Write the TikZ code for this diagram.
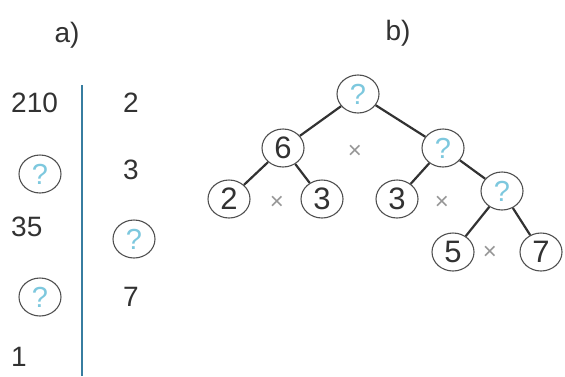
\documentclass[tikz,border=0pt]{standalone}
\usepackage{fontspec}
\setmainfont{Liberation Sans}
\usetikzlibrary{shapes.geometric}
\definecolor{numgray}{RGB}{50,50,50}
\definecolor{qcyan}{RGB}{125,200,222}
\definecolor{ringgray}{RGB}{80,80,80}
\definecolor{barblue}{RGB}{55,125,160}
\definecolor{timesgray}{RGB}{150,150,150}
\tikzset{
  numtxt/.style={text=numgray, font=\fontsize{28}{28}\selectfont, inner sep=0pt},
  treenum/.style={ellipse, draw=ringgray, line width=1.1pt, minimum width=42pt, minimum height=38pt, inner sep=0pt, text=numgray, font=\fontsize{31}{31}\selectfont},
  qring/.style={ellipse, draw=ringgray, line width=1.1pt, fill=white, minimum width=42pt, minimum height=38pt, inner sep=0pt, text=qcyan, font=\fontsize{29}{29}\selectfont},
  timesmark/.style={text=timesgray, font=\fontsize{24}{24}\selectfont, inner sep=0pt},
  branch/.style={draw=numgray, line width=2.2pt},
  lbl/.style={text=numgray, font=\fontsize{28}{28}\selectfont, inner sep=0pt}
}
\begin{document}
\begin{tikzpicture}[x=1pt,y=-1pt]
\useasboundingbox (0,0) rectangle (565,376);
% part a
\node[lbl] (la) at (67,35) {a)};
\coordinate (bartop) at (82,85);
\coordinate (barbot) at (82,376);
\draw[barblue, line width=2.4pt] (bartop) -- (barbot);
\node[numtxt, anchor=west] (n210) at (11,103) {210};
\node[qring] (q1) at (40,174) {?};
\node[numtxt, anchor=west] (n35) at (11,227) {35};
\node[qring] (q2) at (40,297) {?};
\node[numtxt, anchor=west] (n1) at (11,357) {1};
\node[numtxt] (d2) at (131,103) {2};
\node[numtxt] (d3) at (131,170) {3};
\node[qring] (q3) at (134,239) {?};
\node[numtxt] (d7) at (131,297) {7};
% part b
\node[lbl] (lb) at (398,33) {b)};
\node[qring] (root) at (358,94) {?};
\node[treenum] (six) at (283,148) {6};
\node[qring] (r1) at (443,148) {?};
\node[treenum] (two) at (229,199) {2};
\node[treenum] (three) at (322,199) {3};
\node[treenum] (threeb) at (397,199) {3};
\node[qring] (r2) at (502,191) {?};
\node[treenum] (five) at (453,252) {5};
\node[treenum] (seven) at (541,252) {7};
\draw[branch] (root) -- (six);
\draw[branch] (root) -- (r1);
\draw[branch] (six) -- (two);
\draw[branch] (six) -- (three);
\draw[branch] (r1) -- (threeb);
\draw[branch] (r1) -- (r2);
\draw[branch] (r2) -- (five);
\draw[branch] (r2) -- (seven);
\node[timesmark] (t1) at (355,152) {×};
\node[timesmark] (t2) at (277,203) {×};
\node[timesmark] (t3) at (442,203) {×};
\node[timesmark] (t4) at (490,253) {×};
\end{tikzpicture}
\end{document}
